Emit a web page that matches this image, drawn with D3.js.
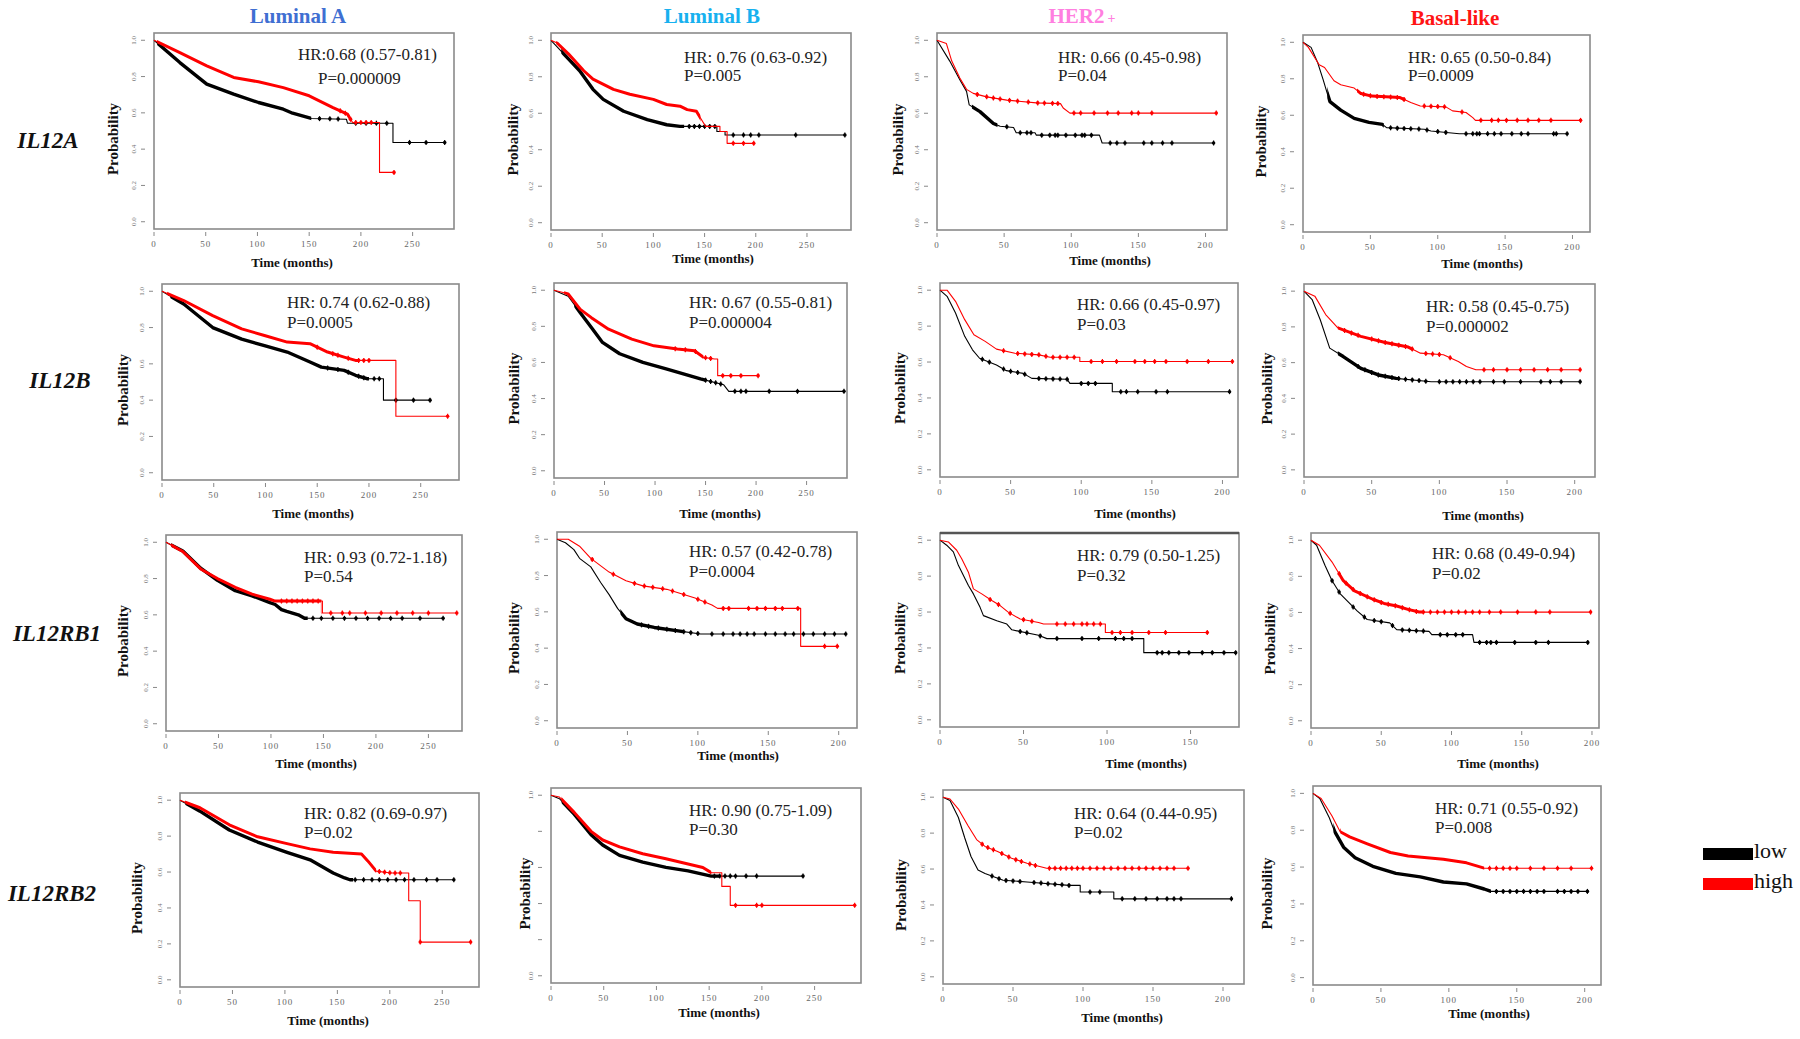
<!DOCTYPE html>
<html><head><meta charset="utf-8">
<script src="https://cdn.jsdelivr.net/npm/d3@7"></script>
<style>body{margin:0;background:#fff}svg{display:block}</style>
</head><body><svg id="c" width="1800" height="1039"></svg>
<script>
// ---------- categories / labels ----------
const subtypes = ["Luminal A", "Luminal B", "HER2", "Basal-like"];
const genes = ["IL12A", "IL12B", "IL12RB1", "IL12RB2"];
const hrLabels = [
  "HR:0.68 (0.57-0.81)", "HR: 0.76 (0.63-0.92)", "HR: 0.66 (0.45-0.98)", "HR: 0.65 (0.50-0.84)",
  "HR: 0.74 (0.62-0.88)", "HR: 0.67 (0.55-0.81)", "HR: 0.66 (0.45-0.97)", "HR: 0.58 (0.45-0.75)",
  "HR: 0.93 (0.72-1.18)", "HR: 0.57 (0.42-0.78)", "HR: 0.79 (0.50-1.25)", "HR: 0.68 (0.49-0.94)",
  "HR: 0.82 (0.69-0.97)", "HR: 0.90 (0.75-1.09)", "HR: 0.64 (0.44-0.95)", "HR: 0.71 (0.55-0.92)"];
const pLabels = [
  "P=0.000009", "P=0.005", "P=0.04", "P=0.0009",
  "P=0.0005", "P=0.000004", "P=0.03", "P=0.000002",
  "P=0.54", "P=0.0004", "P=0.32", "P=0.02",
  "P=0.02", "P=0.30", "P=0.02", "P=0.008"];
const xDomainMax = [290, 293, 216, 213, 287, 290, 211, 215, 282, 213, 179, 205, 285, 294, 215, 212];
const xTickMax = [250, 250, 200, 200, 250, 250, 200, 200, 250, 200, 150, 200, 250, 250, 200, 200];
const yTickValues = [0, 0.2, 0.4, 0.6, 0.8, 1.0];
const yTickValuesSparse = [0, 1.0];
const legendLabels = ["low", "high"];

// ---------- survival curves: [months, probability] ----------
// IL12A
const IL12A_LumA_low = [[0,1],[25,.877],[51,.758],[77,.703],[101,.657],[125,.62],[134,.598],[152,.569],[186,.565],[187,.543],[231,.543],[231,.437],[281,.437]];
const IL12A_LumA_high = [[0,1],[25,.932],[51,.859],[77,.795],[101,.771],[125,.739],[150,.694],[173,.629],[187,.593],[192,.547],[218,.547],[218,.272],[232,.272]];
const IL12A_LumA_lowCens = [160,170,178,195,205,215,225,247,263,281];
const IL12A_LumA_highCens = [180,185,190,195,200,205,210,232];
const IL12A_LumA_lowDense = [3,152], IL12A_LumA_highDense = [3,190];

const IL12A_LumB_low = [[0,1],[17,.898],[28,.833],[41,.731],[51,.676],[71,.611],[94,.565],[113,.537],[126,.528],[162,.528],[162,.5],[170,.5],[170,.481],[287,.481]];
const IL12A_LumB_high = [[0,1],[6,.985],[17,.926],[32,.833],[41,.787],[61,.731],[77,.704],[100,.676],[113,.648],[126,.639],[133,.62],[142,.611],[146,.574],[151,.528],[165,.528],[165,.5],[172,.5],[172,.435],[198,.435]];
const IL12A_LumB_lowCens = [135,140,145,150,155,160,178,188,195,203,239,287];
const IL12A_LumB_highCens = [178,188,198];
const IL12A_LumB_lowDense = [10,130], IL12A_LumB_highDense = [5,146];

const IL12A_HER2_low = [[0,1],[9.5,.886],[17,.784],[22,.72],[24,.646],[32,.609],[42,.544],[47,.529],[57,.522],[59,.493],[73,.493],[74,.48],[121,.48],[123,.437],[206,.437]];
const IL12A_HER2_high = [[0,1],[7,.982],[11,.886],[17,.793],[22,.731],[27,.709],[37,.69],[52,.672],[74,.657],[92,.653],[94,.629],[99,.601],[208,.601]];
const IL12A_HER2_lowCens = [52,62,67,70,78,84,88,90,96,103,108,110,115,129,134,140,154,160,168,175,206];
const IL12A_HER2_highCens = [30,37,42,47,54,60,68,75,80,86,90,102,107,117,127,135,145,150,160,208];
const IL12A_HER2_lowDense = [26,45], IL12A_HER2_highDense = [];

const IL12A_Basal_low = [[0,1],[6,.972],[11,.886],[15,.794],[18,.72],[20,.675],[28,.628],[38,.583],[49,.561],[59,.55],[62,.532],[90,.523],[95,.514],[116,.499],[196,.499]];
const IL12A_Basal_high = [[0,1],[4,.972],[12,.877],[16,.862],[23,.789],[28,.767],[38,.749],[43,.719],[51,.705],[72,.697],[80,.67],[87,.651],[106,.646],[111,.624],[121,.615],[126,.587],[128,.572],[206,.572]];
const IL12A_Basal_lowCens = [65,70,75,80,86,92,100,106,121,126,129,131,137,142,147,155,162,167,186,188,196];
const IL12A_Basal_highCens = [45,50,55,60,65,70,75,90,95,100,105,118,132,140,145,151,159,167,175,184,206];
const IL12A_Basal_lowDense = [18,60], IL12A_Basal_highDense = [40,75];

// IL12B
const IL12B_LumA_low = [[0,1],[21,.93],[49,.8],[77,.736],[99,.7],[121,.665],[143,.61],[154,.582],[176,.564],[187,.537],[198,.518],[214,.518],[214,.4],[259,.4]];
const IL12B_LumA_high = [[0,1],[21,.949],[49,.866],[77,.793],[99,.756],[121,.72],[143,.711],[160,.665],[176,.637],[187,.619],[226,.619],[226,.311],[276,.311]];
const IL12B_LumA_lowCens = [160,170,180,190,195,205,210,226,243,259];
const IL12B_LumA_highCens = [150,165,170,180,190,195,200,276];
const IL12B_LumA_lowDense = [8,200], IL12B_LumA_highDense = [5,190];

const IL12B_LumB_low = [[0,1],[14,.967],[26,.875],[37,.793],[48,.711],[65,.648],[88,.6],[111,.564],[134,.527],[145,.509],[168,.476],[173,.44],[287,.44]];
const IL12B_LumB_high = [[0,1],[14,.98],[26,.894],[37,.848],[54,.784],[77,.729],[99,.692],[122,.674],[139,.665],[148,.628],[159,.619],[162,.619],[162,.527],[202,.527]];
const IL12B_LumB_lowCens = [150,155,160,165,179,185,190,213,241,287];
const IL12B_LumB_highCens = [120,130,140,150,155,167,175,185,202];
const IL12B_LumB_lowDense = [20,150], IL12B_LumB_highDense = [10,148];

const IL12B_HER2_low = [[0,1],[5,.966],[11,.873],[17.5,.743],[23,.668],[28,.621],[40,.584],[47,.552],[59,.537],[65,.509],[90,.504],[92,.481],[122,.481],[122,.435],[205,.435]];
const IL12B_HER2_high = [[0,1],[5,1],[11,.938],[17.5,.836],[24,.752],[32,.715],[40,.672],[53,.649],[70,.64],[78,.627],[99,.627],[99,.603],[207,.603]];
const IL12B_HER2_lowCens = [30,35,45,50,55,60,70,75,80,85,90,100,105,110,128,132,140,153,161,205];
const IL12B_HER2_highCens = [45,55,60,65,70,75,80,85,90,95,107,115,125,138,145,152,160,175,190,207];
const IL12B_HER2_lowDense = [], IL12B_HER2_highDense = [];

const IL12B_Basal_low = [[0,1],[6,.953],[12,.84],[19,.681],[29,.634],[42,.568],[55,.531],[68,.512],[94,.493],[204,.493]];
const IL12B_Basal_high = [[0,1],[8,.972],[16,.869],[25,.794],[42,.747],[60,.713],[77,.687],[86,.653],[103,.644],[114,.606],[120,.578],[127,.56],[204,.56]];
const IL12B_Basal_lowCens = [40,45,50,55,60,65,70,75,80,85,90,100,105,110,115,120,125,130,140,148,160,175,182,190,204];
const IL12B_Basal_highCens = [30,35,40,50,55,60,65,70,75,80,90,95,100,108,133,140,150,160,170,180,190,204];
const IL12B_Basal_lowDense = [25,70], IL12B_Basal_highDense = [25,80];

// IL12RB1
const IL12RB1_LumA_low = [[0,1],[16,.952],[33,.857],[49,.79],[66,.733],[82,.705],[99,.667],[104,.657],[110,.629],[115,.619],[126,.6],[132,.581],[264,.581]];
const IL12RB1_LumA_high = [[0,1],[16,.949],[33,.853],[49,.8],[66,.752],[82,.714],[99,.686],[104,.676],[149,.676],[149,.61],[277,.61]];
const IL12RB1_LumA_lowCens = [140,148,159,170,181,192,203,214,225,242,264];
const IL12RB1_LumA_highCens = [110,115,120,125,130,135,140,145,157,168,175,190,205,220,235,250,277];
const IL12RB1_LumA_lowDense = [5,135], IL12RB1_LumA_highDense = [5,148];

const IL12RB1_LumB_low = [[0,1],[6,.981],[12,.943],[16,.895],[24,.848],[31,.762],[37,.695],[43,.619],[49,.562],[57,.533],[69,.514],[86,.495],[102,.478],[205,.478]];
const IL12RB1_LumB_high = [[0,1],[8,1],[16,.962],[24,.895],[37,.819],[49,.771],[61,.743],[78,.724],[86,.705],[98,.676],[110,.638],[114,.619],[173,.619],[173,.41],[199,.41]];
const IL12RB1_LumB_lowCens = [60,65,72,78,84,90,95,100,110,118,125,130,135,140,148,155,162,168,175,182,190,197,205];
const IL12RB1_LumB_highCens = [25,40,55,62,68,75,82,90,100,105,118,122,136,142,148,155,160,171,190,199];
const IL12RB1_LumB_lowDense = [45,90], IL12RB1_LumB_highDense = [];

const IL12RB1_HER2_low = [[0,1],[4,.972],[8,.935],[11,.86],[17,.748],[20,.701],[24,.626],[26,.58],[34,.551],[40,.533],[43,.501],[59,.471],[64,.452],[122,.452],[122,.374],[177,.374]];
const IL12RB1_HER2_high = [[0,1],[5,.99],[10,.944],[13,.897],[17,.822],[20,.729],[25,.701],[31,.664],[36,.636],[41,.598],[48,.561],[59,.542],[62,.533],[99,.533],[99,.486],[160,.486]];
const IL12RB1_HER2_lowCens = [48,52,60,70,85,95,105,110,115,130,133,137,143,149,157,163,170,177];
const IL12RB1_HER2_highCens = [30,35,42,50,55,70,75,80,85,88,92,96,103,108,115,125,135,160];
const IL12RB1_HER2_lowDense = [], IL12RB1_HER2_highDense = [];

const IL12RB1_Basal_low = [[0,1],[4,.972],[10,.86],[15,.776],[21,.701],[27,.654],[33,.607],[40,.561],[56,.542],[61,.505],[84,.495],[86,.477],[115,.477],[116,.434],[197,.434]];
const IL12RB1_Basal_high = [[0,1],[6,.972],[15,.879],[23,.776],[31,.72],[44,.673],[52,.65],[61,.636],[69,.617],[77,.602],[199,.602]];
const IL12RB1_Basal_lowCens = [15,20,30,38,45,50,58,65,70,75,80,92,97,103,108,120,125,128,132,145,160,169,197];
const IL12RB1_Basal_highCens = [20,25,30,35,40,45,50,55,60,65,70,75,80,85,90,95,100,105,110,115,120,127,135,147,160,170,199];
const IL12RB1_Basal_lowDense = [], IL12RB1_Basal_highDense = [20,80];

// IL12RB2
const IL12RB2_LumA_low = [[0,1],[19,.939],[47,.834],[74,.767],[102,.71],[124,.668],[146,.595],[157,.567],[162,.557],[261,.557]];
const IL12RB2_LumA_high = [[0,1],[19,.958],[47,.863],[74,.796],[102,.758],[124,.729],[146,.71],[173,.7],[179,.662],[187,.605],[201,.595],[218,.595],[218,.44],[229,.44],[229,.21],[277,.21]];
const IL12RB2_LumA_lowCens = [167,175,183,190,198,206,214,223,235,245,261];
const IL12RB2_LumA_highCens = [190,195,200,205,210,229,277];
const IL12RB2_LumA_lowDense = [5,165], IL12RB2_LumA_highDense = [5,187];

const IL12RB2_LumB_low = [[0,1],[8,.981],[22,.895],[38,.781],[49,.724],[65,.667],[87,.629],[109,.6],[130,.581],[152,.552],[239,.552]];
const IL12RB2_LumB_high = [[0,1],[8,.99],[22,.905],[38,.8],[49,.752],[65,.714],[87,.676],[109,.648],[130,.619],[144,.6],[152,.571],[162,.571],[162,.495],[170,.495],[170,.39],[288,.39]];
const IL12RB2_LumB_lowCens = [155,160,165,170,175,185,195,239];
const IL12RB2_LumB_highCens = [175,195,200,288];
const IL12RB2_LumB_lowDense = [10,160], IL12RB2_LumB_highDense = [10,152];

const IL12RB2_HER2_low = [[0,1],[5,.981],[11,.887],[15.5,.774],[20,.67],[25,.594],[30,.575],[43,.538],[60,.528],[90,.509],[98,.509],[98,.472],[122,.472],[122,.434],[206,.434]];
const IL12RB2_HER2_high = [[0,1],[5,.99],[11,.934],[18,.84],[24,.764],[30,.726],[39,.698],[49,.66],[60,.632],[74,.604],[175,.604]];
const IL12RB2_HER2_lowCens = [35,40,45,50,55,65,70,75,80,85,90,105,112,128,137,145,153,160,165,170,206];
const IL12RB2_HER2_highCens = [28,32,36,42,47,52,56,62,66,76,80,84,88,92,96,100,105,110,115,120,125,130,135,140,145,150,155,160,165,175];
const IL12RB2_HER2_lowDense = [], IL12RB2_HER2_highDense = [];

const IL12RB2_Basal_low = [[0,1],[5,.972],[12,.868],[16,.792],[22.5,.708],[31,.651],[44,.604],[61,.566],[79,.547],[96,.519],[113,.509],[126,.481],[131,.468],[202,.468]];
const IL12RB2_Basal_high = [[0,1],[6,.972],[14,.877],[20,.792],[27,.764],[40,.726],[57,.679],[70,.66],[96,.642],[113,.623],[126,.594],[205,.594]];
const IL12RB2_Basal_lowCens = [135,140,145,150,155,160,165,170,180,185,190,195,202];
const IL12RB2_Basal_highCens = [130,135,140,145,150,160,170,180,190,205];
const IL12RB2_Basal_lowDense = [15,131], IL12RB2_Basal_highDense = [20,126];

// ---------- table built from the arrays ----------
const curveTable = [
  [IL12A_LumA_low, IL12A_LumA_high, IL12A_LumA_lowCens, IL12A_LumA_highCens, IL12A_LumA_lowDense, IL12A_LumA_highDense],
  [IL12A_LumB_low, IL12A_LumB_high, IL12A_LumB_lowCens, IL12A_LumB_highCens, IL12A_LumB_lowDense, IL12A_LumB_highDense],
  [IL12A_HER2_low, IL12A_HER2_high, IL12A_HER2_lowCens, IL12A_HER2_highCens, IL12A_HER2_lowDense, IL12A_HER2_highDense],
  [IL12A_Basal_low, IL12A_Basal_high, IL12A_Basal_lowCens, IL12A_Basal_highCens, IL12A_Basal_lowDense, IL12A_Basal_highDense],
  [IL12B_LumA_low, IL12B_LumA_high, IL12B_LumA_lowCens, IL12B_LumA_highCens, IL12B_LumA_lowDense, IL12B_LumA_highDense],
  [IL12B_LumB_low, IL12B_LumB_high, IL12B_LumB_lowCens, IL12B_LumB_highCens, IL12B_LumB_lowDense, IL12B_LumB_highDense],
  [IL12B_HER2_low, IL12B_HER2_high, IL12B_HER2_lowCens, IL12B_HER2_highCens, IL12B_HER2_lowDense, IL12B_HER2_highDense],
  [IL12B_Basal_low, IL12B_Basal_high, IL12B_Basal_lowCens, IL12B_Basal_highCens, IL12B_Basal_lowDense, IL12B_Basal_highDense],
  [IL12RB1_LumA_low, IL12RB1_LumA_high, IL12RB1_LumA_lowCens, IL12RB1_LumA_highCens, IL12RB1_LumA_lowDense, IL12RB1_LumA_highDense],
  [IL12RB1_LumB_low, IL12RB1_LumB_high, IL12RB1_LumB_lowCens, IL12RB1_LumB_highCens, IL12RB1_LumB_lowDense, IL12RB1_LumB_highDense],
  [IL12RB1_HER2_low, IL12RB1_HER2_high, IL12RB1_HER2_lowCens, IL12RB1_HER2_highCens, IL12RB1_HER2_lowDense, IL12RB1_HER2_highDense],
  [IL12RB1_Basal_low, IL12RB1_Basal_high, IL12RB1_Basal_lowCens, IL12RB1_Basal_highCens, IL12RB1_Basal_lowDense, IL12RB1_Basal_highDense],
  [IL12RB2_LumA_low, IL12RB2_LumA_high, IL12RB2_LumA_lowCens, IL12RB2_LumA_highCens, IL12RB2_LumA_lowDense, IL12RB2_LumA_highDense],
  [IL12RB2_LumB_low, IL12RB2_LumB_high, IL12RB2_LumB_lowCens, IL12RB2_LumB_highCens, IL12RB2_LumB_lowDense, IL12RB2_LumB_highDense],
  [IL12RB2_HER2_low, IL12RB2_HER2_high, IL12RB2_HER2_lowCens, IL12RB2_HER2_highCens, IL12RB2_HER2_lowDense, IL12RB2_HER2_highDense],
  [IL12RB2_Basal_low, IL12RB2_Basal_high, IL12RB2_Basal_lowCens, IL12RB2_Basal_highCens, IL12RB2_Basal_lowDense, IL12RB2_Basal_highDense]
];

// ---------- layout (positions, not data) ----------
const boxes = [
  [154,33,454,229],[551,33,851,230],[937,33,1227,230],[1303,35,1590,232],
  [162,284,459,480],[554,283,847,478],[940,283,1238,477],[1304,284,1595,477],
  [166,535,462,731],[557,532,857,728],[940,533,1239,727],[1311,533,1599,728],
  [180,793,479,987],[551,788,861,983],[943,790,1244,984],[1313,786,1601,985]];
const hrPos = [
  [298,60,318,84],[684,63,684,81],[1058,63,1058,81],[1408,63,1408,81],
  [287,308,287,328],[689,308,689,328],[1077,310,1077,330],[1426,312,1426,332],
  [304,563,304,582],[689,557,689,577],[1077,561,1077,581],[1432,559,1432,579],
  [304,819,304,838],[689,816,689,835],[1074,819,1074,838],[1435,814,1435,833]];
const probX = [113,513,898,1261, 123,514,900,1267, 123,514,900,1270, 137,525,901,1267];
const timePos = [
  [292,267],[713,263],[1110,265],[1482,268],
  [313,518],[720,518],[1135,518],[1483,520],
  [316,768],[738,760],[1146,768],[1498,768],
  [328,1025],[719,1017],[1122,1022],[1489,1018]];
const titlePos = [[298,23],[712,23],[1082,23],[1455,25]];
const titleColors = ["#3f6fd2", "#17b1ef", "#ff7fe0", "#ff1414"];
const genePos = [[48,148],[60,388],[57,641],[52,901]];
const frameWidth = [1.6,1.6,1.6,1.6, 1.6,1.6,1.6,1.6, 1.6,1.6,1.6,1.6, 1.6,1.6,1.6,1.6];

const serif = "'Liberation Serif','Times New Roman',serif";
const svg = d3.select("#c");
svg.append("rect").attr("width",1800).attr("height",1039).attr("fill","#fff");
const defs = svg.append("defs");

// column titles
subtypes.forEach((s,i) => {
  const t = svg.append("text").attr("x",titlePos[i][0]).attr("y",titlePos[i][1])
    .attr("text-anchor","middle").attr("font-family",serif).attr("font-weight","bold")
    .attr("font-size",21).attr("fill",titleColors[i]).text(s);
  if (s === "HER2") t.append("tspan").attr("font-size",14).attr("dx",3).text("+");
});
// row labels
genes.forEach((g,i) => {
  svg.append("text").attr("x",genePos[i][0]).attr("y",genePos[i][1]).attr("text-anchor","middle")
    .attr("font-family",serif).attr("font-weight","bold").attr("font-style","italic")
    .attr("font-size",23).attr("fill","#111").text(g);
});

function valueAt(pts, t) {
  for (let k = pts.length - 1; k >= 0; k--) {
    if (pts[k][0] <= t) {
      if (k === pts.length - 1) return pts[k][1];
      const a = pts[k], b = pts[k+1];
      if (b[0] === a[0]) return b[1];
      return a[1] + (b[1]-a[1]) * (t - a[0]) / (b[0] - a[0]);
    }
  }
  return pts[0][1];
}

curveTable.forEach((row, i) => {
  const [L,T,R,B] = boxes[i];
  const x = d3.scaleLinear().domain([0, xDomainMax[i]]).range([L, R]);
  const y = d3.scaleLinear().domain([-0.04, 1.04]).range([B, T]);
  const g = svg.append("g");

  // x axis
  const xt = d3.range(0, xTickMax[i] + 1, 50);
  g.selectAll(null).data(xt).join("line")
    .attr("x1", d=>x(d)).attr("x2", d=>x(d)).attr("y1", B+3).attr("y2", B+7)
    .attr("stroke","#888").attr("stroke-width",1);
  g.selectAll(null).data(xt).join("text")
    .attr("x", d=>x(d)).attr("y", B+18).attr("text-anchor","middle")
    .attr("font-family",serif).attr("font-size",9).attr("fill","#666").attr("letter-spacing",1)
    .text(d=>d);
  // y axis
  g.selectAll(null).data(yTickValues).join("line")
    .attr("x1", L-13).attr("x2", L-9).attr("y1", d=>y(d)).attr("y2", d=>y(d))
    .attr("stroke","#888").attr("stroke-width",1);
  g.selectAll(null).data(i === 13 ? yTickValuesSparse : yTickValues).join("text")
    .attr("transform", d=>`translate(${L-18},${y(d)}) rotate(-90)`)
    .attr("text-anchor","middle").attr("font-family",serif).attr("font-size",7)
    .attr("fill","#777").text(d=>d3.format(".1f")(d));

  // frame
  g.append("rect").attr("x",L).attr("y",T).attr("width",R-L).attr("height",B-T)
    .attr("fill","none").attr("stroke","#8a8a8a").attr("stroke-width",frameWidth[i]);
  if (i === 10) g.append("line").attr("x1",L).attr("x2",R).attr("y1",T).attr("y2",T)
    .attr("stroke","#555").attr("stroke-width",2.5);

  // labels
  g.append("text").attr("transform",`translate(${probX[i]},${(T+B)/2+8}) rotate(-90)`)
    .attr("text-anchor","middle").attr("dominant-baseline","central")
    .attr("font-family",serif).attr("font-weight","bold").attr("font-size",15).attr("fill","#111")
    .text("Probability");
  g.append("text").attr("x",timePos[i][0]).attr("y",timePos[i][1]).attr("text-anchor","middle")
    .attr("font-family",serif).attr("font-weight","bold").attr("font-size",13).attr("fill","#111")
    .text("Time (months)");
  g.append("text").attr("x",hrPos[i][0]).attr("y",hrPos[i][1])
    .attr("font-family",serif).attr("font-size",17).attr("fill","#222").text(hrLabels[i]);
  g.append("text").attr("x",hrPos[i][2]).attr("y",hrPos[i][3])
    .attr("font-family",serif).attr("font-size",17).attr("fill","#222").text(pLabels[i]);

  const line = d3.line().x(d=>x(d[0])).y(d=>y(d[1]));
  const series = [
    {pts: row[0], cens: row[2], dense: row[4], color: "#000", thick: 3.4},
    {pts: row[1], cens: row[3], dense: row[5], color: "#ff0000", thick: 3.0}];
  series.forEach((s, si) => {
    g.append("path").attr("d", line(s.pts)).attr("fill","none")
      .attr("stroke", s.color).attr("stroke-width", 1.1).attr("stroke-linejoin","round");
    if (s.dense.length === 2) {
      const id = `clip${i}_${si}`;
      defs.append("clipPath").attr("id", id).append("rect")
        .attr("x", x(s.dense[0])).attr("y", T).attr("width", x(s.dense[1]) - x(s.dense[0])).attr("height", B-T);
      g.append("path").attr("d", line(s.pts)).attr("fill","none").attr("clip-path", `url(#${id})`)
        .attr("stroke", s.color).attr("stroke-width", s.thick).attr("stroke-linejoin","round");
    }
    const cg = g.append("g");
    cg.selectAll(null).data(s.cens).join("line")
      .attr("x1", d=>x(d)).attr("x2", d=>x(d))
      .attr("y1", d=>y(valueAt(s.pts,d))-2.5).attr("y2", d=>y(valueAt(s.pts,d))+2.5)
      .attr("stroke", s.color).attr("stroke-width", 1.2);
    cg.selectAll(null).data(s.cens).join("circle")
      .attr("cx", d=>x(d)).attr("cy", d=>y(valueAt(s.pts,d))).attr("r", 1.8)
      .attr("fill", s.color);
  });
});

// legend
const legColors = ["#000", "#ff0000"];
const legY = [848, 878];
legendLabels.forEach((lab, k) => {
  svg.append("rect").attr("x",1703).attr("y",legY[k]).attr("width",50).attr("height",12)
    .attr("fill",legColors[k]);
  svg.append("text").attr("x",1754).attr("y",legY[k]+10).attr("font-family",serif)
    .attr("font-size",22).attr("fill","#111").text(lab);
});
</script></body></html>
